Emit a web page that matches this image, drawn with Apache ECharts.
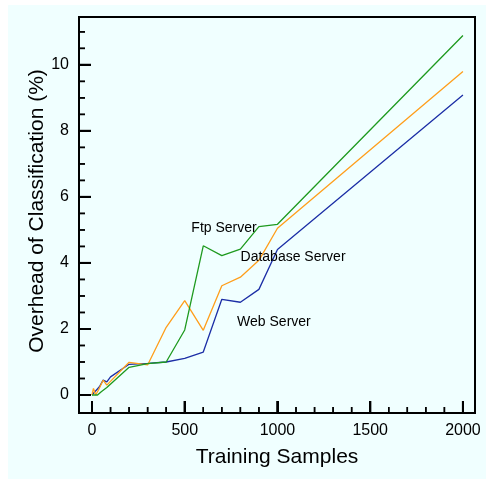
<!DOCTYPE html>
<html>
<head>
<meta charset="utf-8">
<script src="https://cdn.jsdelivr.net/npm/echarts@6/dist/echarts.min.js"></script>
<style>
html,body{margin:0;padding:0;background:#ffffff;}
#bg{position:absolute;left:8px;top:5px;width:478px;height:474px;background:#f0ffff;}
#chart{position:absolute;left:0;top:0;width:487px;height:481px;}
</style>
</head>
<body>
<div id="bg"></div>
<div id="chart"></div>
<script>
// Data
var webSamples = [0, 40, 60, 80, 100, 200, 300, 400, 500, 600, 700, 800, 900, 1000, 2000];
var webOverhead = [0, 0.25, 0.45, 0.4, 0.55, 0.93, 0.96, 1.0, 1.11, 1.3, 2.9, 2.81, 3.2, 4.41, 9.09];

var dbSamples = [0, 8, 20, 35, 60, 80, 200, 300, 400, 500, 600, 700, 800, 900, 1000, 2000];
var dbOverhead = [0, 0.2, 0, 0.15, 0.45, 0.3, 0.99, 0.91, 2.05, 2.86, 1.96, 3.31, 3.57, 4.08, 5.05, 9.8];

var ftpSamples = [0, 30, 50, 80, 200, 300, 400, 500, 600, 700, 800, 900, 1000, 2000];
var ftpOverhead = [0, 0, 0.1, 0.23, 0.84, 0.95, 1.0, 1.97, 4.52, 4.22, 4.42, 5.1, 5.17, 10.89];

var xMajorTicks = [0, 500, 1000, 1500, 2000];
var xMinorTicks = [100, 200, 300, 400, 600, 700, 800, 900, 1100, 1200, 1300, 1400, 1600, 1700, 1800, 1900];
var yMajorTicks = [0, 2, 4, 6, 8, 10];
var yMinorTicks = [0.5, 1, 1.5, 2.5, 3, 3.5, 4.5, 5, 5.5, 6.5, 7, 7.5, 8.5, 9, 9.5, 10.5, 11];

var annotationNames = ['Ftp Server', 'Database Server', 'Web Server'];
var annotationX = [712, 1084, 981];
var annotationY = [5.06, 4.18, 2.21];

function zip(xs, ys) { return xs.map(function (x, i) { return [x, ys[i]]; }); }

var FONT = '"Liberation Sans", Arial, Helvetica, sans-serif';
var xMin = -70, xMax = 2065, yMin = -0.545, yMax = 11.45;

function tickSeries(values, isX, len, width) {
  return {
    type: 'custom', silent: true, clip: false, z: 5,
    data: values.map(function (v) { return isX ? [v, yMin] : [xMin, v]; }),
    encode: { x: 0, y: 1 },
    renderItem: function (params, api) {
      var p = api.coord([api.value(0), api.value(1)]);
      var shape = isX
        ? { x1: p[0], y1: p[1], x2: p[0], y2: p[1] - len }
        : { x1: p[0], y1: p[1], x2: p[0] + len, y2: p[1] };
      return { type: 'line', shape: shape, style: { stroke: '#000', lineWidth: width } };
    }
  };
}

var chart = echarts.init(document.getElementById('chart'));
chart.setOption({
  animation: false,
  grid: { left: 79, top: 17, right: 12, bottom: 68, show: true, borderColor: '#000', borderWidth: 2 },
  xAxis: {
    type: 'value', min: xMin, max: xMax, splitNumber: 5,
    name: 'Training Samples', nameLocation: 'middle', nameGap: 34,
    nameTextStyle: { fontFamily: FONT, fontSize: 21, color: '#000' },
    axisLine: { show: true, onZero: false, lineStyle: { color: '#000', width: 2 } },
    axisTick: { show: true, inside: true, length: 12, lineStyle: { color: '#000', width: 2 } },
    axisLabel: { margin: 10, fontFamily: FONT, fontSize: 16, color: '#000',
      formatter: function (v) { return xMajorTicks.indexOf(v) >= 0 ? String(v) : ''; } },
    splitLine: { show: false }
  },
  yAxis: {
    type: 'value', min: yMin, max: yMax, splitNumber: 5,
    axisLine: { show: true, onZero: false, lineStyle: { color: '#000', width: 2 } },
    axisTick: { show: true, inside: true, length: 12, lineStyle: { color: '#000', width: 2 } },
    axisLabel: { margin: 10, fontFamily: FONT, fontSize: 16, color: '#000',
      formatter: function (v) { return yMajorTicks.indexOf(v) >= 0 ? String(v) : ''; } },
    splitLine: { show: false }
  },
  series: [
    tickSeries(xMajorTicks, true, 12, 2),
    tickSeries(xMinorTicks, true, 6, 1.5),
    tickSeries(yMajorTicks, false, 12, 2),
    tickSeries(yMinorTicks, false, 6, 1.5),
    { name: 'Web Server', type: 'line', data: zip(webSamples, webOverhead), showSymbol: false,
      lineStyle: { color: '#1c2ea6', width: 1.3 }, itemStyle: { color: '#1c2ea6' } },
    { name: 'Database Server', type: 'line', data: zip(dbSamples, dbOverhead), showSymbol: false,
      lineStyle: { color: '#ff9e1b', width: 1.3 }, itemStyle: { color: '#ff9e1b' } },
    { name: 'Ftp Server', type: 'line', data: zip(ftpSamples, ftpOverhead), showSymbol: false,
      lineStyle: { color: '#1f9a1f', width: 1.3 }, itemStyle: { color: '#1f9a1f' } }
  ]
});

// Second pass: annotations, y-axis title and tick overlay positioned through the chart's own scales
var g = [];
g.push({ type: 'text', z: 100, silent: true, x: 37, y: 211, rotation: Math.PI / 2,
  style: { text: 'Overhead of Classification (%)', font: '21px ' + FONT, fill: '#000', align: 'center', verticalAlign: 'middle' } });
annotationNames.forEach(function (n, i) {
  var p = chart.convertToPixel({ gridIndex: 0 }, [annotationX[i], annotationY[i]]);
  g.push({ type: 'text', z: 100, silent: true, x: p[0], y: p[1],
    style: { text: n, font: '14px ' + FONT, fill: '#000', align: 'center', verticalAlign: 'middle' } });
});
function addTicks(values, isX, len, width) {
  values.forEach(function (v) {
    var p = chart.convertToPixel({ gridIndex: 0 }, isX ? [v, yMin] : [xMin, v]);
    g.push({ type: 'line', z: 100, silent: true,
      shape: isX ? { x1: p[0], y1: p[1], x2: p[0], y2: p[1] - len } : { x1: p[0], y1: p[1], x2: p[0] + len, y2: p[1] },
      style: { stroke: '#000', lineWidth: width } });
  });
}
addTicks(xMajorTicks, true, 12, 2);
addTicks(xMinorTicks, true, 6, 1.5);
addTicks(yMajorTicks, false, 12, 2);
addTicks(yMinorTicks, false, 6, 1.5);
chart.setOption({ graphic: g });
</script>
</body>
</html>
